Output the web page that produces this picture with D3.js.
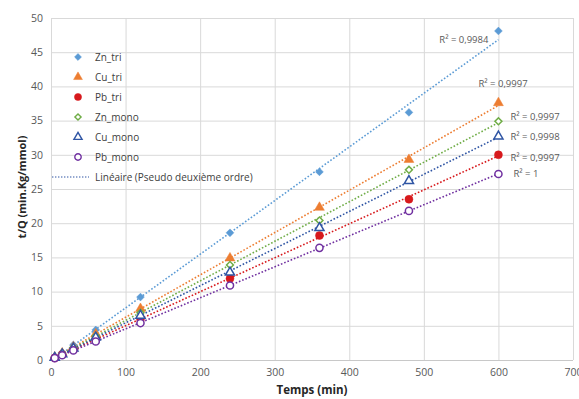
<html>
<head>
  <meta charset="utf-8">
  <title>Pseudo deuxième ordre</title>
  <script src="https://d3js.org/d3.v7.min.js" charset="utf-8"></script>
  <style>
    body { margin: 0; background: #fff; }
    text { font-family: "Open Sans", "Liberation Sans", sans-serif; }
  </style>
</head>
<body>
<div id="chart"></div>
<script>
// data
var times = [5, 15, 30, 60, 120, 240, 360, 480, 600];
var seriesNames = ["Zn_tri", "Cu_tri", "Pb_tri", "Zn_mono", "Cu_mono", "Pb_mono"];
var znTri  = [0.45, 1.1, 2.2, 4.4, 9.2, 18.6, 27.5, 36.2, 48.1];
var cuTri  = [0.40, 1.0, 1.9, 3.8, 7.5, 14.9, 22.3, 29.3, 37.6];
var pbTri  = [0.30, 0.8, 1.55, 3.0, 6.0, 11.9, 18.2, 23.5, 30.0];
var znMono = [0.35, 0.9, 1.8, 3.5, 6.9, 13.9, 20.4, 27.8, 34.9];
var cuMono = [0.33, 0.85, 1.7, 3.3, 6.5, 12.8, 19.3, 26.2, 32.7];
var pbMono = [0.28, 0.7, 1.4, 2.7, 5.4, 10.9, 16.4, 21.8, 27.2];
var r2Labels = ["R² = 0,9984", "R² = 0,9997", "R² = 0,9997", "R² = 0,9997", "R² = 0,9998", "R² = 1"];
var xTicks = [0, 100, 200, 300, 400, 500, 600, 700];
var yTicks = [0, 5, 10, 15, 20, 25, 30, 35, 40, 45, 50];
var trendLabel = "Linéaire (Pseudo deuxième ordre)";

var allValues = [znTri, cuTri, pbTri, znMono, cuMono, pbMono];

// looks per series (legend order); diamonds are squares turned 45°
var looks = [
  {color: "#5b9bd5", shape: d3.symbolSquare,  rot: 45, size: 30, filled: true,  ldx: -10, ldy: 0,   anchor: "end"},
  {color: "#ed7d31", shape: d3.symbolTriangle, rot: 0, size: 42, filled: true,  ldx: -20, ldy: -22, anchor: "start"},
  {color: "#d7191c", shape: d3.symbolCircle,  rot: 0,  size: 50, filled: true,  ldx: 12,  ldy: 2,   anchor: "start"},
  {color: "#70ad47", shape: d3.symbolSquare,  rot: 45, size: 24, filled: false, ldx: 12,  ldy: -6,  anchor: "start"},
  {color: "#2f55a4", shape: d3.symbolTriangle, rot: 0, size: 36, filled: false, ldx: 12,  ldy: 0,   anchor: "start"},
  {color: "#7030a0", shape: d3.symbolCircle,  rot: 0,  size: 40, filled: false, ldx: 15,  ldy: 0,   anchor: "start"}
];

var width = 579, height = 399;
var margin = {left: 51, right: 6, top: 18, bottom: 39};

var svg = d3.select("#chart").append("svg")
    .attr("width", width)
    .attr("height", height);

var x = d3.scaleLinear().domain([0, 700]).range([margin.left, 573]);
var y = d3.scaleLinear().domain([0, 50]).range([height - margin.bottom, margin.top]);

// grid
svg.append("g").selectAll("line.h")
    .data(yTicks).enter().append("line")
    .attr("x1", x(0)).attr("x2", x(700))
    .attr("y1", function(d){ return y(d) + 0.5; })
    .attr("y2", function(d){ return y(d) + 0.5; })
    .style("stroke", function(d){ return d === 0 ? "#c8c8c8" : "#d9d9d9"; })
    .style("stroke-width", 1);

svg.append("g").selectAll("line.v")
    .data(xTicks).enter().append("line")
    .attr("y1", y(0)).attr("y2", y(50))
    .attr("x1", function(d){ return x(d) + 0.5; })
    .attr("x2", function(d){ return x(d) + 0.5; })
    .style("stroke", "#d9d9d9")
    .style("stroke-width", 1);

// axes (labels only)
var xAxis = svg.append("g")
    .attr("transform", "translate(0," + (y(0) + 3) + ")")
    .call(d3.axisBottom(x).tickValues(xTicks).tickSize(0).tickPadding(6));
var yAxis = svg.append("g")
    .attr("transform", "translate(" + (x(0) - 6) + ",0)")
    .call(d3.axisLeft(y).tickValues(yTicks).tickSize(0).tickPadding(2));
[xAxis, yAxis].forEach(function(a){
  a.select(".domain").remove();
  a.selectAll("text").style("fill", "#595959").style("font-size", "10.5px")
    .style("font-family", "'Open Sans', sans-serif");
});

// axis titles
svg.append("text")
    .attr("x", (x(0) + x(700)) / 2)
    .attr("y", 394)
    .attr("text-anchor", "middle")
    .style("font-size", "11.5px").style("font-weight", "bold").style("fill", "#262626")
    .text("Temps (min)");
svg.append("text")
    .attr("transform", "translate(26," + ((y(0) + y(50)) / 2 - 2) + ") rotate(-90)")
    .attr("text-anchor", "middle")
    .style("font-size", "11px").style("font-weight", "bold").style("fill", "#262626")
    .text("t/Q (min.Kg/mmol)");

// least squares fit for the trend lines
function fit(xs, ys) {
  var n = xs.length, mx = d3.mean(xs), my = d3.mean(ys);
  var sxy = 0, sxx = 0;
  for (var i = 0; i < n; i++) { sxy += (xs[i] - mx) * (ys[i] - my); sxx += (xs[i] - mx) * (xs[i] - mx); }
  var b = sxy / sxx;
  return {a: my - b * mx, b: b};
}

var xMin = d3.min(times), xMax = d3.max(times);

for (var s = 0; s < seriesNames.length; s++) {
  var vals = allValues[s], lk = looks[s];
  var f = fit(times, vals);
  var yStart = f.a + f.b * xMin, yEnd = f.a + f.b * xMax;

  svg.append("line")
      .attr("x1", x(xMin)).attr("y1", y(yStart))
      .attr("x2", x(xMax)).attr("y2", y(yEnd))
      .style("stroke", lk.color)
      .style("stroke-width", 1.6)
      .style("stroke-dasharray", "1.6,1.9");

  svg.append("text")
      .attr("x", x(xMax) + lk.ldx)
      .attr("y", y(yEnd) + lk.ldy)
      .attr("dy", "0.35em")
      .attr("text-anchor", lk.anchor)
      .style("font-size", "9.5px").style("fill", "#595959")
      .text(r2Labels[s]);
}

// markers on top
for (var s = 0; s < seriesNames.length; s++) {
  var lk = looks[s];
  svg.append("g").selectAll("path")
      .data(allValues[s]).enter().append("path")
      .attr("d", d3.symbol().type(lk.shape).size(lk.size))
      .attr("transform", function(d, i){ return "translate(" + x(times[i]) + "," + y(d) + ") rotate(" + lk.rot + ")"; })
      .style("fill", lk.filled ? lk.color : "#fff")
      .style("stroke", lk.color)
      .style("stroke-width", lk.filled ? 0.5 : 1.5);
}

// legend
var legend = svg.append("g").attr("transform", "translate(0,57)");
seriesNames.forEach(function(name, i){
  var lk = looks[i];
  var row = legend.append("g").attr("transform", "translate(0," + (i * 20) + ")");
  row.append("path")
      .attr("d", d3.symbol().type(lk.shape).size(lk.size * 0.8))
      .attr("transform", "translate(78,0) rotate(" + lk.rot + ")")
      .style("fill", lk.filled ? lk.color : "#fff")
      .style("stroke", lk.color)
      .style("stroke-width", lk.filled ? 0.5 : 1.4);
  row.append("text")
      .attr("x", 95).attr("dy", "0.35em")
      .style("font-size", "10px").style("fill", "#404040")
      .text(name);
});
var trendRow = legend.append("g").attr("transform", "translate(0," + (seriesNames.length * 20) + ")");
trendRow.append("line")
    .attr("x1", 52).attr("x2", 89).attr("y1", 0).attr("y2", 0)
    .style("stroke", "#2f55a4").style("stroke-width", 1.2)
    .style("stroke-dasharray", "1.4,1.6");
trendRow.append("text")
    .attr("x", 95).attr("dy", "0.35em")
    .style("font-size", "10px").style("fill", "#404040")
    .text(trendLabel);
</script>
</body>
</html>
